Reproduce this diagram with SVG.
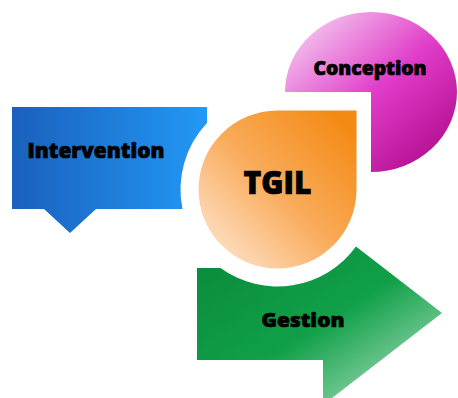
<svg xmlns="http://www.w3.org/2000/svg" width="458" height="398" viewBox="0 0 458 398">
<defs>
<linearGradient id="gBlue" x1="0" y1="0" x2="1" y2="0">
<stop offset="0" stop-color="#1a60bc"/>
<stop offset="1" stop-color="#2299f5"/>
</linearGradient>
<linearGradient id="gOrange" x1="0.1" y1="0.95" x2="0.95" y2="0.1">
<stop offset="0" stop-color="#fde3cc"/>
<stop offset="0.5" stop-color="#f9ab5a"/>
<stop offset="1" stop-color="#f48a14"/>
</linearGradient>
<linearGradient id="gPink" x1="0.1" y1="0.1" x2="0.9" y2="0.95">
<stop offset="0" stop-color="#f3c3ee"/>
<stop offset="0.5" stop-color="#e03cc8"/>
<stop offset="1" stop-color="#b00c8e"/>
</linearGradient>
<linearGradient id="gGreen" x1="0" y1="0" x2="1" y2="1">
<stop offset="0" stop-color="#0a8a3a"/>
<stop offset="0.5" stop-color="#10a048"/>
<stop offset="1" stop-color="#c4e8d0"/>
</linearGradient>
</defs>
<style>
.lbl{font-family:"Open Sans","Liberation Sans",sans-serif;font-weight:800;fill:#000;stroke:#000;stroke-width:0.7;text-anchor:middle}
</style>
<g id="connectors"></g>
<g id="intervention">
<path d="M12,107 H207 V122.9 A97,97 0 0 0 182.5,209 H96 L70,233 L44,209 H12 Z" fill="url(#gBlue)"/>
<text class="lbl" x="96" y="158" font-size="21" textLength="137" lengthAdjust="spacingAndGlyphs">Intervention</text>
</g>
<g id="conception">
<path d="M371,92 H285 A86,80 0 1 1 371,172 Z" fill="url(#gPink)"/>
<text class="lbl" x="370" y="75" font-size="18.5" textLength="113" lengthAdjust="spacingAndGlyphs">Conception</text>
</g>
<g id="gestion">
<path d="M197,268 H220.5 A97,97 0 0 0 356,246.5 L442,313 L323,405 V360 H197 Z" fill="url(#gGreen)"/>
<text class="lbl" x="303" y="327" font-size="19.5" textLength="83" lengthAdjust="spacingAndGlyphs">Gestion</text>
</g>
<g id="tgil">
<path d="M277.5,110.5 H356.5 V189.5 A79,79 0 1 1 277.5,110.5 Z" fill="url(#gOrange)"/>
<text class="lbl" x="277.5" y="194" font-size="31" textLength="68" lengthAdjust="spacingAndGlyphs">TGIL</text>
</g>
</svg>
